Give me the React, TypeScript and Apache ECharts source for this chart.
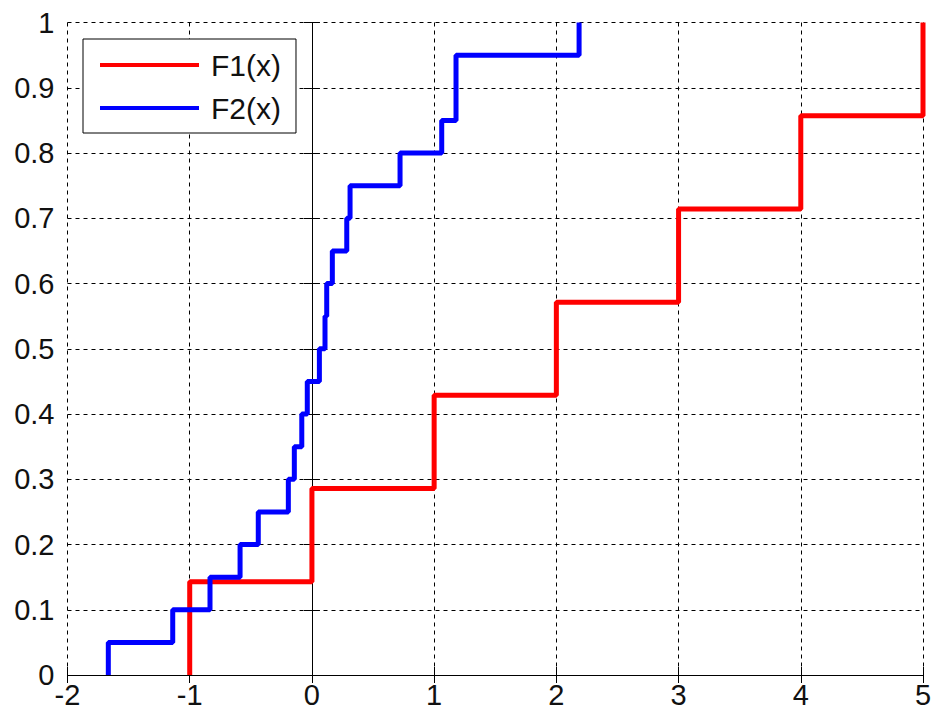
import React, { useEffect, useRef } from "react";
import * as echarts from "echarts";

// F1: jump points of the first empirical CDF (7 samples)
const f1Jumps = [-1, 0, 1, 2, 3, 4, 5];
// F2: jump points of the second empirical CDF (20 samples, one repeated)
const f2Jumps = [
  -1.666, -1.139, -0.834, -0.588, -0.439, -0.193, -0.144, -0.083, -0.038, 0.061,
  0.107, 0.121, 0.167, 0.285, 0.312, 0.721, 1.062, 1.179, 1.179, 2.186,
];
const seriesNames = ["F1(x)", "F2(x)"];
const xTicks = [-2, -1, 0, 1, 2, 3, 4, 5];
const yTicks = [0, 0.1, 0.2, 0.3, 0.4, 0.5, 0.6, 0.7, 0.8, 0.9, 1];

function ecdfPoints(jumps: number[]): number[][] {
  const n = jumps.length;
  const pts: number[][] = [[jumps[0], 0]];
  jumps.forEach((x, i) => pts.push([x, (i + 1) / n]));
  return pts;
}

const FONT = "'Liberation Sans', Arial, Helvetica, sans-serif";

export default function App() {
  const ref = useRef<HTMLDivElement>(null);
  useEffect(() => {
    if (!ref.current) return;
    const chart = echarts.init(ref.current, undefined, { renderer: "svg" });
    const axisLine = { show: true, lineStyle: { color: "#000", width: 1 } };
    const tick = { show: true, inside: true, length: 8, lineStyle: { color: "#000" } };
    const split = { show: true, lineStyle: { color: "#000", type: [4, 4] as any, width: 1 } };
    chart.setOption({
      animation: false,
      backgroundColor: "#fff",
      grid: { left: 67.5, right: 19, top: 22.5, bottom: 41, containLabel: false },
      legend: {
        left: 83,
        top: 39,
        orient: "vertical",
        data: seriesNames,
        icon: "rect",
        itemWidth: 99,
        itemHeight: 4,
        itemGap: 11,
        padding: [10, 15, 9, 17],
        borderColor: "#000",
        borderWidth: 1,
        backgroundColor: "#fff",
        textStyle: { fontSize: 30, fontFamily: FONT, color: "#111", lineHeight: 32, padding: [0, 0, 0, 7] },
      },
      xAxis: [
        {
          type: "value", min: xTicks[0], max: xTicks[xTicks.length - 1], interval: 1,
          position: "bottom",
          axisLine, axisTick: tick, splitLine: split,
          axisLabel: { fontSize: 29, fontFamily: FONT, color: "#111", margin: 5 },
        },
        {
          type: "value", min: xTicks[0], max: xTicks[xTicks.length - 1], interval: 1,
          position: "top",
          axisLine, axisTick: tick, splitLine: { show: false }, axisLabel: { show: false },
        },
      ],
      yAxis: [
        {
          type: "value", min: yTicks[0], max: yTicks[yTicks.length - 1], interval: 0.1,
          position: "left",
          axisLine, axisTick: tick, splitLine: split,
          axisLabel: { fontSize: 29, fontFamily: FONT, color: "#111", margin: 13 },
        },
        {
          type: "value", min: yTicks[0], max: yTicks[yTicks.length - 1], interval: 0.1,
          position: "right",
          axisLine, axisTick: tick, splitLine: { show: false }, axisLabel: { show: false },
        },
      ],
      series: [
        {
          name: seriesNames[0], type: "line", step: "end", data: ecdfPoints(f1Jumps),
          showSymbol: false, clip: false, color: "#ff0000",
          lineStyle: { color: "#ff0000", width: 5 },
        },
        {
          name: seriesNames[1], type: "line", step: "end", data: ecdfPoints(f2Jumps),
          showSymbol: false, clip: false, color: "#0000ff",
          lineStyle: { color: "#0000ff", width: 5 },
        },
      ],
    });
    return () => chart.dispose();
  }, []);
  return <div ref={ref} style={{ width: 942, height: 716, position: "absolute", left: 0, top: 0 }} />;
}
